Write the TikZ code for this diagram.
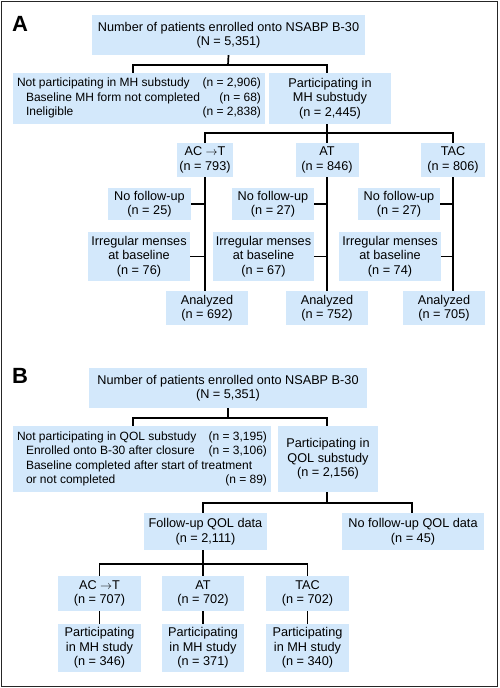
\documentclass[tikz,border=0pt]{standalone}
\usepackage{fontspec}
\setmainfont{Liberation Sans}
\usepackage{tikz}
\definecolor{box blue}{RGB}{211,232,251}
\colorlet{link edge}{black}
\tikzset{box/.style={fill=box blue, inner sep=0pt, align=center, font=\fontsize{12.7}{14.5}\selectfont},
	listbox/.style={box, font=\fontsize{12}{14.5}\selectfont},
	link/.style={draw=link edge, line width=1.7pt},
	panel/.style={font=\fontsize{22}{22}\selectfont\bfseries, anchor=base west, inner sep=0pt}}

\begin{document}
\begin{tikzpicture}[x=1pt, y=-1pt]
		\useasboundingbox (0,0) rectangle (500,688);
		\draw[black!85, line width=1.6pt] (1.5,1.5) rectangle (497.5,686.5);
		% panel A
		\node[panel] (labA) at (12,31) {A};
		\node[box, minimum width=273, minimum height=40] (topA) at (228.5,35) {Number of patients enrolled onto NSABP B-30\\(N = 5,351)};
		\node[listbox, minimum width=252, minimum height=51] (notA) at (139,98.5) {\begin{tabular*}{244pt}{@{}l@{\extracolsep{\fill}}r@{}}
				Not participating in MH substudy & (n = 2,906)\\
				\hspace{9pt}Baseline MH form not completed & (n = 68)\\
				\hspace{9pt}Ineligible & (n = 2,838)
			\end{tabular*}};
		\node[box, minimum width=122, minimum height=51] (partA) at (330,98.5) {Participating in\\MH substudy\\(n = 2,445)};
		\node[box, minimum width=56, minimum height=34] (acA) at (205,160) {AC $\rightarrow$T\\(n = 793)};
		\node[box, minimum width=63, minimum height=34] (atA) at (327,160) {AT\\(n = 846)};
		\node[box, minimum width=64, minimum height=34] (tacA) at (453,160) {TAC\\(n = 806)};
		\node[box, minimum width=83, minimum height=32] (nfA1) at (149.5,204) {No follow-up\\(n = 25)};
		\node[box, minimum width=82, minimum height=32] (nfA2) at (273,204) {No follow-up\\(n = 27)};
		\node[box, minimum width=82, minimum height=32] (nfA3) at (399,204) {No follow-up\\(n = 27)};
		\node[box, minimum width=102, minimum height=49] (irA1) at (139,256.5) {Irregular menses\\at baseline\\(n = 76)};
		\node[box, minimum width=101, minimum height=49] (irA2) at (263.5,256.5) {Irregular menses\\at baseline\\(n = 67)};
		\node[box, minimum width=102, minimum height=49] (irA3) at (390,256.5) {Irregular menses\\at baseline\\(n = 74)};
		\node[box, minimum width=82, minimum height=34] (anaA1) at (207,308) {Analyzed\\(n = 692)};
		\node[box, minimum width=82, minimum height=34] (anaA2) at (327,308) {Analyzed\\(n = 752)};
		\node[box, minimum width=82, minimum height=34] (anaA3) at (444,308) {Analyzed\\(n = 705)};
		\coordinate (splitA) at (228,65);
		\coordinate (forkA) at (327,133);
		\draw[link] (topA.south) -- (splitA);
		\draw[link] ([xshift=-6]notA.north) |- (splitA) -| ([xshift=-3]partA.north);
		\draw[link] (forkA |- partA.south) -- (forkA) -- (atA.north);
		\draw[link] (acA.north) |- (forkA) -| (tacA.north);
		\draw[link] (acA.south) -- (acA.south |- anaA1.north);
		\draw[link] (atA.south) -- (atA.south |- anaA2.north);
		\draw[link] (tacA.south) -- (tacA.south |- anaA3.north);
		\draw[link] (nfA1.east) -- (nfA1.east -| acA.south);
		\draw[link] (nfA2.east) -- (nfA2.east -| atA.south);
		\draw[link] (nfA3.east) -- (nfA3.east -| tacA.south);
		\draw[link] (irA1.east) -- (irA1.east -| acA.south);
		\draw[link] (irA2.east) -- (irA2.east -| atA.south);
		\draw[link] (irA3.east) -- (irA3.east -| tacA.south);
		% panel B
		\node[panel] (labB) at (12,383) {B};
		\node[box, minimum width=278, minimum height=40] (topB) at (228,388) {Number of patients enrolled onto NSABP B-30\\(N = 5,351)};
		\node[listbox, minimum width=258, minimum height=66] (notB) at (142,459) {\begin{tabular*}{250pt}{@{}l@{\extracolsep{\fill}}r@{}}
				Not participating in QOL substudy & (n = 3,195)\\
				\hspace{9pt}Enrolled onto B-30 after closure & (n = 3,106)\\
				\multicolumn{2}{@{}l@{}}{\hspace{9pt}Baseline completed after start of treatment}\\
				\hspace{9pt}or not completed & (n = 89)
			\end{tabular*}};
		\node[box, minimum width=100, minimum height=66] (partB) at (328,459) {Participating in\\QOL substudy\\(n = 2,156)};
		\node[box, minimum width=123, minimum height=37] (fuB) at (205.5,531.5) {Follow-up QOL data\\(n = 2,111)};
		\node[box, minimum width=142, minimum height=37] (nfuB) at (413,531.5) {No follow-up QOL data\\(n = 45)};
		\node[box, minimum width=83, minimum height=35] (acB) at (99.5,593.5) {AC $\rightarrow$T\\(n = 707)};
		\node[box, minimum width=82, minimum height=35] (atB) at (203,593.5) {AT\\(n = 702)};
		\node[box, minimum width=83, minimum height=35] (tacB) at (307.5,593.5) {TAC\\(n = 702)};
		\node[box, minimum width=83, minimum height=48] (mhB1) at (99.5,648) {Participating\\in MH study\\(n = 346)};
		\node[box, minimum width=82, minimum height=48] (mhB2) at (203,648) {Participating\\in MH study\\(n = 371)};
		\node[box, minimum width=83, minimum height=48] (mhB3) at (307.5,648) {Participating\\in MH study\\(n = 340)};
		\coordinate (splitB) at (228,418);
		\coordinate (forkB) at (327,503);
		\coordinate (treatB) at (203,564);
		\draw[link] (topB.south) -- (splitB);
		\draw[link] ([xshift=-9]notB.north) |- (splitB) -| ([xshift=-1]partB.north);
		\draw[link] (forkB |- partB.south) -- (forkB);
		\draw[link] ([xshift=-2.5]fuB.north) |- (forkB) -| ([xshift=-1]nfuB.north);
		\draw[link] (treatB |- fuB.south) -- (treatB) -- (atB.north);
		\draw[link] (acB.north) |- (treatB) -| (tacB.north);
		\draw[link] (acB.south) -- (mhB1.north);
		\draw[link] (atB.south) -- (mhB2.north);
		\draw[link] (tacB.south) -- (mhB3.north);
		\end{tikzpicture}
\end{document}
